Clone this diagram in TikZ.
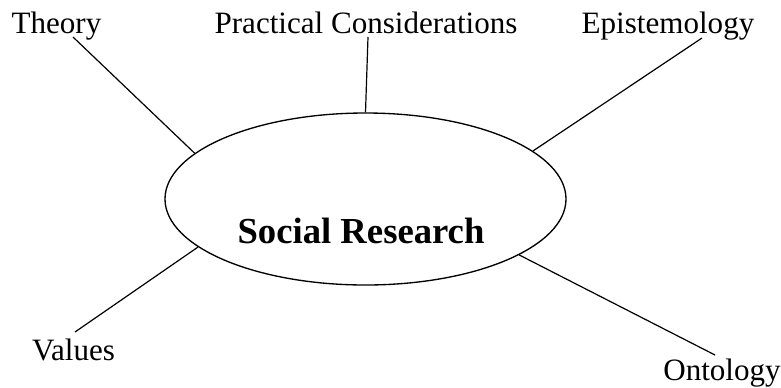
\documentclass[tikz,border=0pt]{standalone}
\usepackage{fontspec}
\setmainfont{Liberation Serif}
\usetikzlibrary{shapes.geometric}

\begin{document}
\begin{tikzpicture}[x=0.75pt, y=-0.75pt,
                        term/.style={anchor=base, inner sep=0pt, font=\fontsize{23.3}{28}\selectfont},
                        link/.style={black, line width=0.9pt}]
                        \useasboundingbox (0,0) rectangle (781,387);
                        \node[draw, black, line width=1pt, ellipse, minimum width=300.75pt, minimum height=129pt, inner sep=0pt] (sr) at (365.5,199) {};
                        \node[anchor=base, inner sep=0pt, font=\fontsize{27.5}{33}\selectfont\bfseries] (srtext) at (361,243) {Social Research};
                        \node[term] (theory) at (56.5,33) {Theory};
                        \node[term] (practical) at (366,33) {Practical Considerations};
                        \node[term] (episte) at (668,33) {Epistemology};
                        \node[term] (values) at (73.5,360) {Values};
                        \node[term] (ontology) at (722,380) {Ontology};
                        \draw[link] ([shift={(16.5,4)}]theory.base) -- (sr.165);
                        \draw[link] ([shift={(2,4)}]practical.base) -- (sr.90);
                        \draw[link] ([shift={(34,5)}]episte.base) -- (sr.16);
                        \draw[link] ([shift={(1.5,-28)}]values.base) -- (sr.196);
                        \draw[link] ([shift={(-7,-25)}]ontology.base) -- (sr.340);
                    \end{tikzpicture}
\end{document}
